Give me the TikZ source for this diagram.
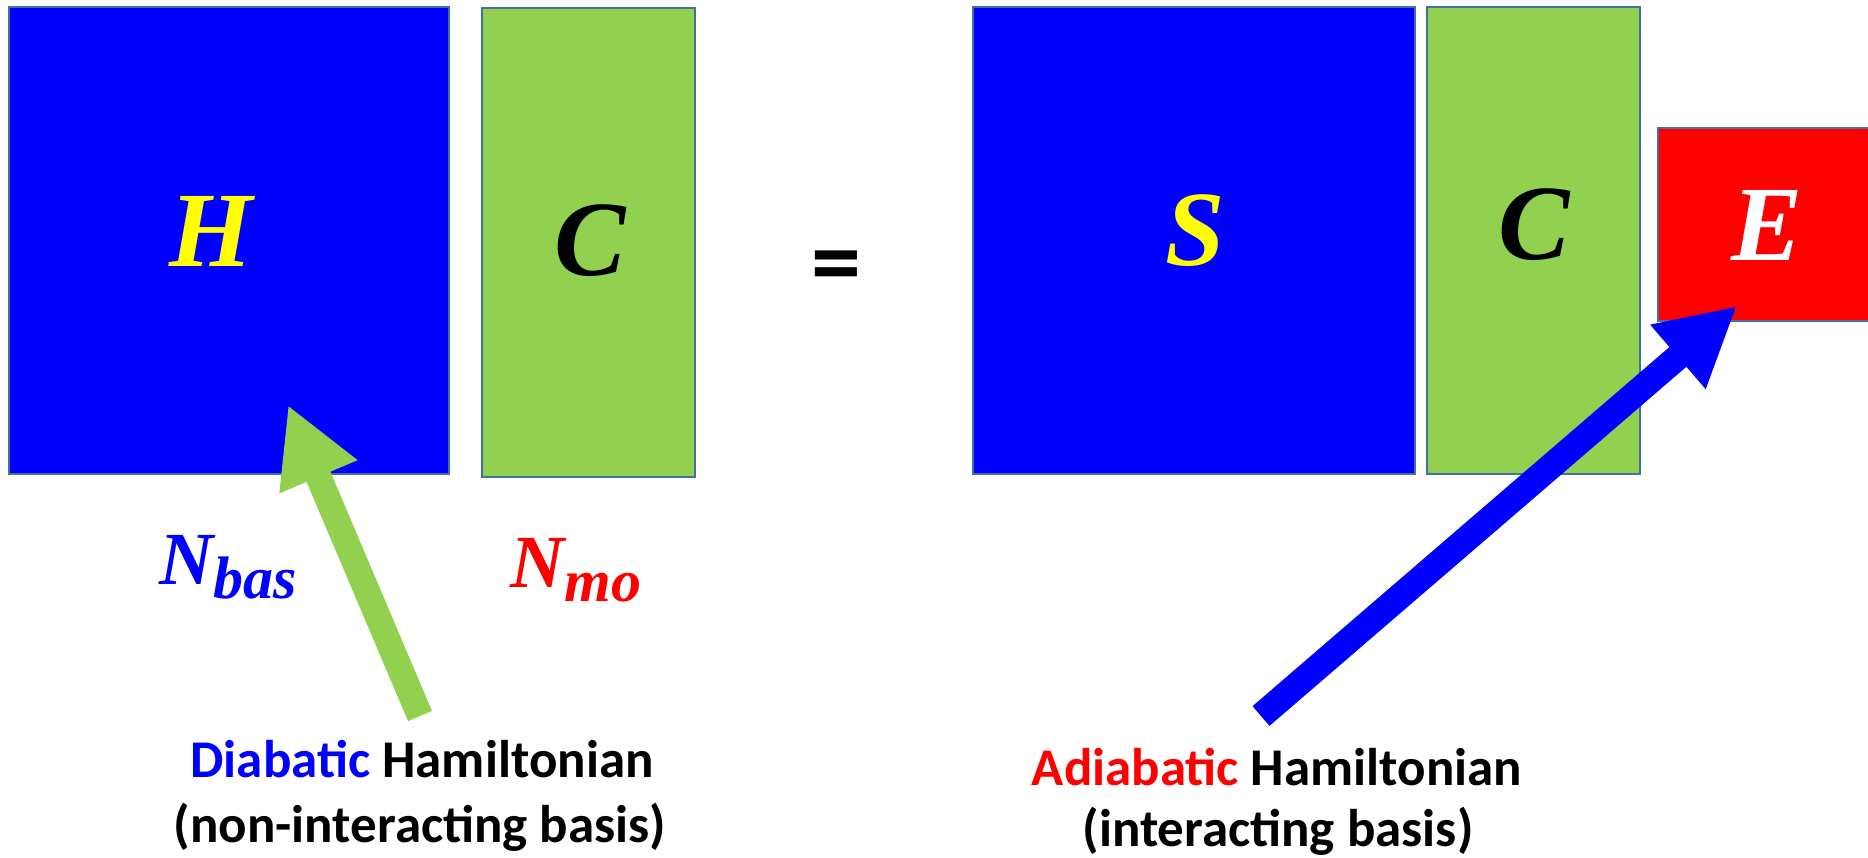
\documentclass[tikz,border=0pt]{standalone}
\usepackage[no-math]{fontspec}
\setmainfont{Carlito}
\newfontfamily\symfont{Liberation Serif}
\usetikzlibrary{positioning,arrows.meta}

\definecolor{matblue}{RGB}{0,0,255}
\definecolor{matgreen}{RGB}{146,208,80}
\definecolor{matred}{RGB}{255,0,0}
\definecolor{matline}{RGB}{65,113,156}
\definecolor{symyellow}{RGB}{255,255,0}

% subscripted size label
\newcommand{\dimlabel}[2]{#1\raisebox{-14pt}{\fontsize{60}{60}\selectfont #2}}

\begin{document}
\begin{tikzpicture}[x=1pt, y=-1pt,
    matbox/.style={draw=matline, line width=1.5pt, rectangle, inner sep=0pt},
    bigsym/.style={anchor=base, inner sep=0pt, font=\symfont\bfseries\itshape\fontsize{107}{107}\selectfont},
    dimsym/.style={anchor=base, inner sep=0pt, font=\symfont\bfseries\itshape\fontsize{75}{75}\selectfont},
    caption/.style={anchor=base, inner sep=0pt, font=\bfseries\fontsize{53}{64}\selectfont},
    fatarrow/.style={line width=26pt, -{Triangle[length=78pt, width=79pt]}}]
\useasboundingbox (0,0) rectangle (1868,857);
\clip (0,0) rectangle (1868,857);

% H C
\node[matbox, fill=matblue, minimum width=440pt, minimum height=467pt] (hmat) at (229,240.5) {};
\node[matbox, fill=matgreen, minimum width=213pt, minimum height=469pt] (cmat) at (588.5,242.5) {};
\node[bigsym, text=symyellow] (hsym) at (211,266) {H};
\node[bigsym] (csym) at (590,275) {C};

\node[anchor=base, inner sep=0pt, font=\bfseries\fontsize{100}{100}\selectfont] (eqsign) at (836,295) {=};

% S C E
\node[matbox, fill=matblue, minimum width=442pt, minimum height=467pt] (smat) at (1194,240.5) {};
\node[matbox, fill=matgreen, minimum width=213pt, minimum height=467pt] (cmat2) at (1533.5,240.5) {};
\node[matbox, fill=matred, minimum width=250pt, minimum height=193pt] (emat) at (1783,224.5) {};
\node[bigsym, text=symyellow] (ssym) at (1195,265) {S};
\node[bigsym] (csym2) at (1534,259) {C};
\node[bigsym, text=white] (esym) at (1767,260) {E};

% dimensions
\node[dimsym, text=matblue] (nbas) at (228,584) {\dimlabel{N}{bas}};
\node[dimsym, text=matred] (nmo) at (576,587) {\dimlabel{N}{mo}};

% captions
\node[caption] (dline1) at (422,777) {\textcolor{matblue}{Diabatic} Hamiltonian};
\node[caption] (dline2) at (420,842) {(non-interacting basis)};
\node[caption] (aline1) at (1277,785) {\textcolor{matred}{Adiabatic} Hamiltonian};
\node[caption] (aline2) at (1278,846) {(interacting basis)};

% arrows
\coordinate (dtail) at (420,716);
\coordinate (dtip) at (288,405);
\coordinate (atail) at (1261,716);
\coordinate (atip) at (1737,306);
\draw[fatarrow, matgreen] (dtail) -- (dtip);
\draw[fatarrow, matblue] (atail) -- (atip);
\end{tikzpicture}
\end{document}
